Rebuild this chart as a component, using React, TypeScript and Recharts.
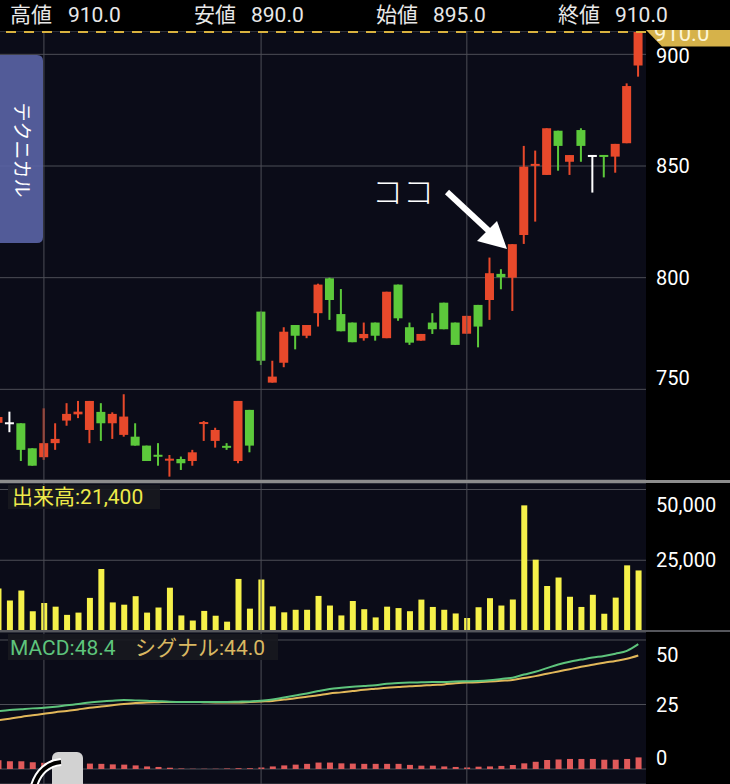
import React from 'react';
import { ComposedChart, Bar, Line, XAxis, YAxis, CartesianGrid, ReferenceLine } from 'recharts';

const FONT = 'Roboto, "Noto Sans CJK JP", sans-serif';

// 日足 57本 (左端の1本は画面外に切れている)
const opens = [735.0, 734.8, 734.8, 723.6, 719.6, 725.9, 736.0, 738.8, 731.8, 739.9, 734.8, 729.6, 728.8, 724.8, 720.6, 718.2, 718.8, 717.9, 734.6, 726.9, 724.5, 717.9, 740.8, 784.8, 753.0, 761.9, 778.8, 774.0, 784.1, 799.7, 783.7, 779.9, 772.9, 779.9, 772.9, 796.9, 777.8, 771.8, 779.9, 788.8, 779.9, 774.9, 787.8, 790.0, 801.7, 800.0, 819.1, 850.2, 846.0, 865.8, 851.9, 866.1, 854.5, 854.6, 854.2, 860.2, 895.0];
const highs = [738.5, 740.0, 734.8, 723.6, 741.5, 734.8, 743.8, 744.8, 744.8, 743.8, 739.7, 747.8, 734.8, 724.8, 725.9, 720.6, 719.9, 722.9, 735.8, 732.8, 725.9, 744.8, 740.8, 784.8, 762.8, 777.8, 778.8, 778.8, 797.3, 800.0, 794.9, 779.9, 779.9, 779.9, 793.7, 796.9, 779.9, 774.8, 784.1, 788.8, 779.9, 782.9, 787.8, 809.0, 803.8, 815.0, 859.0, 856.9, 866.9, 865.8, 854.9, 866.9, 854.5, 854.6, 859.9, 887.0, 910.0];
const lows = [734.5, 730.8, 717.9, 715.8, 718.4, 722.9, 733.7, 737.1, 725.9, 726.9, 727.8, 728.8, 724.8, 717.9, 715.8, 710.9, 713.9, 715.8, 726.9, 723.9, 722.9, 716.9, 721.8, 760.9, 753.0, 759.9, 767.9, 772.9, 778.1, 781.1, 776.0, 771.1, 771.8, 771.8, 772.9, 780.7, 769.9, 771.8, 774.8, 776.9, 769.9, 774.9, 768.8, 781.1, 794.8, 785.1, 815.1, 825.1, 846.0, 847.9, 846.0, 851.9, 838.1, 844.9, 847.0, 860.2, 890.0];
const closes = [737.6, 734.8, 722.9, 715.8, 725.9, 727.8, 739.0, 740.0, 744.8, 734.8, 739.0, 737.8, 724.8, 717.9, 719.9, 718.8, 716.9, 721.8, 735.2, 731.8, 724.0, 744.8, 724.8, 762.8, 755.7, 775.8, 774.0, 778.8, 796.9, 790.0, 776.0, 771.1, 774.8, 774.0, 793.7, 781.8, 770.9, 774.8, 776.9, 776.9, 769.9, 782.9, 778.1, 802.0, 800.2, 815.0, 849.7, 850.8, 866.9, 859.0, 854.9, 859.0, 854.5, 854.4, 859.9, 885.8, 910.0];
const volumes = [15000, 10800, 14300, 7000, 9900, 8600, 5700, 6500, 11700, 21900, 10100, 9300, 12300, 6500, 8300, 15300, 5500, 3700, 7100, 5400, 3300, 18400, 7900, 18200, 8700, 6600, 7500, 7500, 12400, 9000, 5500, 10600, 7700, 4800, 8600, 8100, 7000, 11100, 8500, 7500, 6200, 4600, 8400, 11600, 9000, 11100, 44400, 25200, 15900, 18900, 12100, 8500, 12800, 6100, 11800, 23200, 21400];
const macdLine = [22.4, 22.9, 23.2, 23.5, 23.7, 24.1, 24.7, 25.2, 25.8, 26.2, 26.5, 26.7, 26.6, 26.5, 26.3, 26.1, 26.0, 26.0, 26.0, 26.0, 26.0, 26.1, 26.2, 26.5, 26.9, 27.7, 28.5, 29.3, 30.2, 31.0, 31.5, 31.9, 32.2, 32.5, 33.0, 33.3, 33.5, 33.6, 33.7, 33.7, 33.9, 34.0, 34.1, 34.4, 34.9, 35.4, 36.6, 37.7, 39.1, 40.5, 41.6, 42.4, 43.2, 43.8, 44.7, 45.8, 48.4];
const signalLine = [18.9, 19.5, 20.2, 20.8, 21.4, 22.0, 22.5, 23.1, 23.7, 24.2, 24.7, 25.2, 25.6, 25.8, 25.9, 26.0, 26.0, 26.0, 25.9, 25.8, 25.8, 25.8, 26.0, 26.2, 26.4, 26.9, 27.4, 28.0, 28.6, 29.3, 29.7, 30.2, 30.7, 31.1, 31.5, 31.8, 32.1, 32.3, 32.6, 32.8, 33.2, 33.5, 33.6, 33.9, 34.2, 34.5, 35.3, 36.0, 36.9, 37.8, 38.7, 39.6, 40.4, 41.2, 41.9, 42.7, 44.0];
const macdHist = [3.4, 3.0, 3.0, 2.6, 2.4, 2.3, 2.2, 2.2, 2.1, 2.0, 1.8, 1.7, 1.4, 1.0, 0.8, 0.5, 0.2, 0.1, 0.1, 0.1, 0.2, 0.3, 0.3, 0.6, 1.0, 1.4, 1.7, 2.0, 2.5, 2.5, 2.2, 2.1, 2.0, 2.0, 2.0, 2.0, 1.6, 1.3, 1.3, 1.0, 0.8, 0.6, 0.9, 1.0, 1.2, 1.6, 2.2, 2.8, 3.5, 3.7, 3.9, 3.9, 3.9, 3.6, 3.6, 3.9, 4.5];

// 縦の区切り線 (月替わり)
const gridDays = [4, 23, 41];
const priceTicks = [750, 800, 850, 900];
const volumeTicks = [0, 25000, 50000];
const macdTicks = [0, 25, 50];

const rows = opens.map((o, i) => ({
  i, o, h: highs[i], l: lows[i], c: closes[i],
  v: volumes[i], macd: macdLine[i], sig: signalLine[i], hist: macdHist[i],
}));
const last = rows[rows.length - 1];

const X_DOMAIN: [number, number] = [0.1575, 56.675];
const BG = '#0b0c18';
const GRID = '#4d4e56';
const UP = '#e8492b';
const DOWN = '#5cc93b';
const MARGIN = { top: 0, right: 0, bottom: 0, left: 0 };

function Candle(props: any) {
  const { x, y, width, height, payload } = props;
  if (!payload || !height) return null;
  const { o, h, l, c } = payload;
  const k = height / (h - l);
  const yAt = (v: number) => y + (h - v) * k;
  const color = c > o ? UP : c < o ? DOWN : '#ffffff';
  const cx = x + width / 2;
  const yo = yAt(o);
  const yc = yAt(c);
  const d = Math.abs(yo - yc);
  const bh = Math.max(d, 2);
  const top = Math.min(yo, yc) - (bh - d) / 2;
  return (
    <g>
      <rect x={cx - 1} y={y} width={2} height={height} fill={color} />
      <rect x={x} y={top} width={width} height={bh} fill={color} />
    </g>
  );
}

function AxisTick(props: any) {
  const { x, y, payload, minY, maxY, fmt } = props;
  const ty = Math.min(Math.max(y, minY), maxY);
  return (
    <text x={x} y={ty} dy="0.36em" fill="#ffffff" fontSize={20} fontFamily={FONT} textAnchor="start">
      {fmt ? fmt(payload.value) : payload.value}
    </text>
  );
}

const xAxis = <XAxis dataKey="i" type="number" domain={X_DOMAIN} allowDataOverflow hide />;
const vLines = gridDays.map((d) => <ReferenceLine key={d} x={d} stroke={GRID} />);

export default function App() {
  return (
    <div style={{ position: 'absolute', left: 0, top: 0, width: 730, height: 784, background: '#000', overflow: 'hidden', fontFamily: FONT }}>
      {/* 株価 */}
      <div style={{ position: 'absolute', left: 0, top: 31 }}>
        <ComposedChart width={730} height={449} data={rows} margin={MARGIN}>
          <CartesianGrid vertical={false} stroke={GRID} fill={BG} fillOpacity={1} />
          {xAxis}
          <YAxis orientation="right" width={84} domain={[709.4, 910.45]} allowDataOverflow ticks={priceTicks}
            axisLine={false} tickLine={false} tickSize={0} tickMargin={10}
            tick={<AxisTick minY={24.7} maxY={347} />} />
          {vLines}
          <ReferenceLine y={910} stroke="#d9b23f" strokeDasharray="10 8" strokeWidth={2} />
          <Bar dataKey={(r: any) => [r.l, r.h]} barSize={9} shape={<Candle />} isAnimationActive={false} />
        </ComposedChart>
      </div>
      <div style={{ position: 'absolute', left: 0, top: 480, width: 730, height: 3, background: '#8c8c8c' }} />

      {/* 出来高 */}
      <div style={{ position: 'absolute', left: 0, top: 483 }}>
        <ComposedChart width={730} height={148} data={rows} margin={MARGIN}>
          <CartesianGrid vertical={false} stroke={GRID} fill={BG} fillOpacity={1} />
          {xAxis}
          <YAxis orientation="right" width={84} domain={[0, 52300]} allowDataOverflow ticks={volumeTicks}
            axisLine={false} tickLine={false} tickSize={0} tickMargin={10}
            tick={<AxisTick minY={22} maxY={137} fmt={(v: number) => v.toLocaleString('en-US')} />} />
          {vLines}
          <Bar dataKey="v" barSize={6} fill="#f6f14a" isAnimationActive={false} />
        </ComposedChart>
      </div>
      <div style={{ position: 'absolute', left: 0, top: 630, width: 730, height: 2, background: '#55565c' }} />

      {/* MACD */}
      <div style={{ position: 'absolute', left: 0, top: 632 }}>
        <ComposedChart width={730} height={152} data={rows} margin={MARGIN}>
          <CartesianGrid vertical={false} stroke={GRID} fill={BG} fillOpacity={1} />
          {xAxis}
          <YAxis orientation="right" width={84} domain={[-5.81, 53.1]} allowDataOverflow ticks={macdTicks}
            axisLine={false} tickLine={false} tickSize={0} tickMargin={10}
            tick={<AxisTick minY={23} maxY={126} />} />
          {vLines}
          <Bar dataKey="hist" barSize={6} fill="#e05a5a" isAnimationActive={false} />
          <Line dataKey="sig" type="monotone" stroke="#e2b85a" strokeWidth={2} dot={false} isAnimationActive={false} />
          <Line dataKey="macd" type="monotone" stroke="#5ec47c" strokeWidth={2} dot={false} isAnimationActive={false} />
        </ComposedChart>
      </div>

      {/* 注記・ボタンなど */}
      <svg width={730} height={784} style={{ position: 'absolute', left: 0, top: 0, pointerEvents: 'none' }}>
        <polygon points="646,30 730,30 730,46.5 662,46.5" fill="#d6b24a" />
        <text x={654} y={41} fontSize={22} fill="#fdf6d8" fontFamily={FONT}>{last.c.toFixed(1)}</text>

        <g opacity={0.93}>
          <path d="M-6,55 H37 Q43,55 43,61 V237 Q43,243 37,243 H-6 Z" fill="#5862a2" />
        </g>
        <text x={21} y={150} fontSize={19} fill="#ffffff" textAnchor="middle" dominantBaseline="central"
          transform="rotate(90 21 150)" fontFamily={FONT}>テクニカル</text>

        <text x={372} y={203} fontSize={31} fontWeight={300} fill="#ffffff" fontFamily={FONT}>ココ</text>
        <line x1={447} y1={192} x2={490} y2={232} stroke="#ffffff" strokeWidth={6} />
        <polygon points="507,249 477,241 497,221" fill="#ffffff" />

        <rect x={8} y={485} width={152} height={24} fill="#17181f" opacity={0.9} />
        <text x={12} y={504} fontSize={21} fill="#eeea4a" fontFamily={FONT}>
          {`出来高:${last.v.toLocaleString('en-US')}`}
        </text>

        <rect x={8} y={634} width={270} height={26} fill="#17181f" opacity={0.9} />
        <text x={10} y={655} fontSize={21} fill="#5ec47c" fontFamily={FONT}>{`MACD:${last.macd.toFixed(1)}`}</text>
        <text x={135} y={655} fontSize={21} fill="#d9b862" fontFamily={FONT}>{`シグナル:${last.sig.toFixed(1)}`}</text>

        <rect x={52} y={752} width={31} height={40} rx={6} fill="#d2d2d2" />
        <path d="M61,762 C48,763 38,772 34,786" fill="none" stroke="#ffffff" strokeWidth={8} />
        <path d="M61,762 C48,763 38,772 34,786" fill="none" stroke="#000000" strokeWidth={4} />
      </svg>

      {/* 四本値 */}
      <svg width={730} height={30} style={{ position: 'absolute', left: 0, top: 0 }}>
        <rect x={0} y={0} width={730} height={30} fill="#000" />
        <g fontSize={21} fill="#e8e8e8" fontFamily={FONT}>
          <text x={10} y={22}>高値</text>
          <text x={68} y={22}>{last.h.toFixed(1)}</text>
          <text x={194} y={22}>安値</text>
          <text x={251} y={22}>{last.l.toFixed(1)}</text>
          <text x={376} y={22}>始値</text>
          <text x={433} y={22}>{last.o.toFixed(1)}</text>
          <text x={558} y={22}>終値</text>
          <text x={615} y={22}>{last.c.toFixed(1)}</text>
        </g>
      </svg>
    </div>
  );
}
